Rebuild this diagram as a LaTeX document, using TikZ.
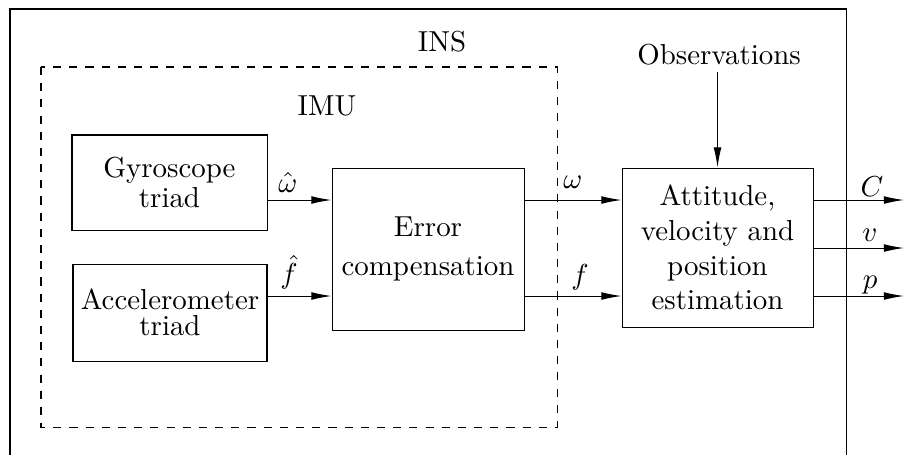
\documentclass[tikz,border=0pt]{standalone}
\usetikzlibrary{arrows.meta}
\begin{document}
\begin{tikzpicture}[x=0.346pt,y=-0.346pt, line width=0.35pt,
  block/.style={draw, align=center, inner sep=0pt},
  sig/.style={-{Latex[length=7pt,width=2.7pt]}},
  lbl/.style={inner sep=0pt}]
\useasboundingbox (0,0) rectangle (905,455);

% INS frame (runs past the lower edge) and dashed IMU frame
\draw (10,455) |- (846,9) -- (846,455);
\draw[dash pattern=on 2.8pt off 2.8pt] (41,67) rectangle (557,427);
\node[lbl] (ins) at (442,42) {INS};
\node[lbl] (imu) at (327,106) {IMU};

% blocks
\node[block, minimum width=67.47pt, minimum height=32.87pt] (gyro) at (169.5,182.5) {Gyroscope\\[-1.6pt]triad};
\node[block, minimum width=67.12pt, minimum height=33.56pt] (acc) at (170,312.5) {Accelerometer\\[-3pt]triad};
\node[block, minimum width=66.43pt, minimum height=56.05pt] (err) at (428,249) {Error\\[1.5pt]compensation};
\node[block, minimum width=66.09pt, minimum height=55.01pt] (att) at (717.5,247.5) {Attitude,\\velocity and\\position\\estimation};
\node[inner sep=2pt] (obs) at (719,55) {Observations};

% output ends
\coordinate (outC) at (904,200);
\coordinate (outv) at (904,248);
\coordinate (outp) at (904,296);

% signals
\draw[sig] (gyro.east |- 0,200) -- (err.west |- 0,200);
\draw[sig] (acc.east |- 0,296) -- (err.west |- 0,296);
\draw[sig] (err.east |- 0,200) -- (att.west |- 0,200);
\draw[sig] (err.east |- 0,296) -- (att.west |- 0,296);
\draw[sig] (obs.south -| att.north) -- (att.north);
\draw[sig] (att.east |- outC) -- (outC);
\draw[sig] (att.east |- outv) -- (outv);
\draw[sig] (att.east |- outp) -- (outp);

% signal labels
\node[lbl] (lw) at (288,182) {$\hat{\omega}$};
\node[lbl] (lf) at (289,272) {$\hat{f}$};
\node[lbl] (lw2) at (573,182) {$\omega$};
\node[lbl] (lf2) at (580,277) {$f$};
\node[lbl] (lC) at (872,187) {$C$};
\node[lbl] (lv) at (870,235) {$v$};
\node[lbl] (lp) at (870,285) {$p$};
\end{tikzpicture}
\end{document}
